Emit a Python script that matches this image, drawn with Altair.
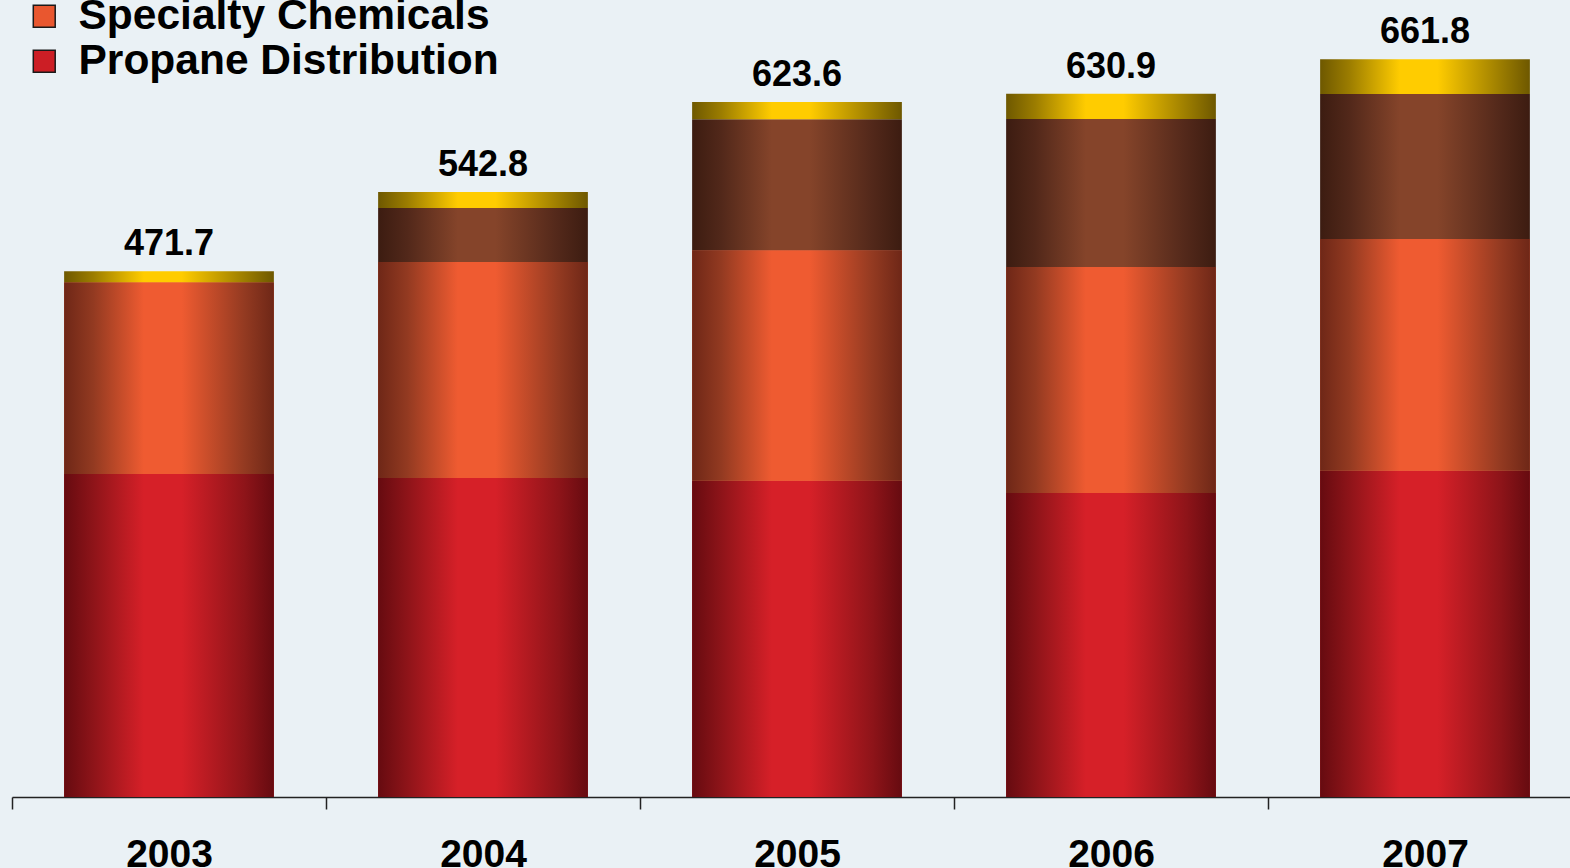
import altair as alt
import pandas as pd

# Revenue by segment, stacked bottom to top
years = ["2003", "2004", "2005", "2006", "2007"]
propane = [289.7, 286.2, 283.7, 272.7, 292.7]
specialty = [172.2, 193.8, 206.9, 202.7, 207.8]
other = [0.0, 48.4, 117.5, 132.8, 130.1]
corporate = [9.8, 14.4, 15.5, 22.7, 31.2]

series_names = ["Propane Distribution", "Specialty Chemicals", "Other", "Corporate"]
series_values = [propane, specialty, other, corporate]

# cylinder-style horizontal shading: (edge, shoulder, highlight)
shades = {
    "Propane Distribution": ("#660b10", "#8e1419", "#d62028"),
    "Specialty Chemicals": ("#6e2717", "#933a21", "#ef5b31"),
    "Other": ("#3c1c11", "#52281a", "#85442a"),
    "Corporate": ("#6e5800", "#9c7d00", "#ffcc00"),
}

rows = []
for i, yr in enumerate(years):
    base = 0.0
    for name, vals in zip(series_names, series_values):
        v = vals[i]
        rows.append({"year": yr, "series": name, "value": v,
                     "start": round(base, 2), "end": round(base + v, 2)})
        base += v
df = pd.DataFrame(rows)
totals = df.groupby("year", as_index=False)["value"].sum().rename(columns={"value": "total"})

x_enc = alt.X("year:N", title=None,
              scale=alt.Scale(range=[0, 1570], paddingInner=0, paddingOuter=0),
              axis=alt.Axis(labelFont="Liberation Sans", labelFontSize=39,
                            labelFontWeight="bold", labelColor="#000000",
                            labelAngle=0, domainColor="#222222", domainWidth=1.5,
                            tickColor="#222222", tickWidth=1.5, tickSize=12,
                            tickBand="extent", labelPadding=26, grid=False))
y_scale = alt.Scale(domain=[0, 715], nice=False, zero=True)
bar_width = {"band": 0.668}


def gradient(name):
    edge, shoulder, hi = shades[name]
    return alt.LinearGradient(
        gradient="linear", x1=0, x2=1, y1=0, y2=0,
        stops=[alt.GradientStop(offset=0, color=edge),
               alt.GradientStop(offset=0.14, color=shoulder),
               alt.GradientStop(offset=0.38, color=hi),
               alt.GradientStop(offset=0.56, color=hi),
               alt.GradientStop(offset=0.86, color=shoulder),
               alt.GradientStop(offset=1, color=edge)])


legend_order = ["Specialty Chemicals", "Propane Distribution"]
legend_colors = ["#e9572f", "#cc1e25"]

# solid layer carrying the legend, covered by the shaded bars
legend_layer = alt.Chart(df[df.series.isin(legend_order)]).mark_bar(width=bar_width).encode(
    x=x_enc,
    y=alt.Y("end:Q", scale=y_scale, axis=None),
    y2="start:Q",
    color=alt.Color("series:N",
                    scale=alt.Scale(domain=legend_order, range=legend_colors),
                    legend=alt.Legend(title=None, orient="none", legendX=11, legendY=-5,
                                      direction="vertical",
                                      labelFont="Liberation Sans", labelFontSize=42.5,
                                      labelFontWeight="bold", labelColor="#000000",
                                      labelLimit=800,
                                      symbolType="square", symbolSize=480,
                                      symbolStrokeColor="#1a1a1a", symbolStrokeWidth=1.5,
                                      labelOffset=13, rowPadding=2, padding=0)),
)

bar_layers = []
for name in series_names:
    bar_layers.append(
        alt.Chart(df).transform_filter(
            (alt.datum.series == name) & (alt.datum.value > 0)
        ).mark_bar(fill=gradient(name), strokeWidth=0, width=bar_width).encode(
            x=x_enc,
            y=alt.Y("end:Q", scale=y_scale, axis=None),
            y2="start:Q",
        )
    )

labels = alt.Chart(totals).mark_text(
    font="Liberation Sans", fontSize=36, fontWeight="bold", color="#000000",
    baseline="alphabetic", dy=-16,
).encode(
    x=x_enc,
    y=alt.Y("total:Q", scale=y_scale, axis=None),
    text=alt.Text("total:Q", format=".1f"),
)

chart = alt.layer(legend_layer, *bar_layers, labels).properties(
    width=1558, height=797,
    background="#eaf1f5",
    autosize=alt.AutoSizeParams(type="none"),
    padding={"left": 12, "top": 0, "right": 0, "bottom": 71},
).configure_view(stroke=None)

chart.save("out.html", embed_options={"renderer": "svg", "actions": False})
